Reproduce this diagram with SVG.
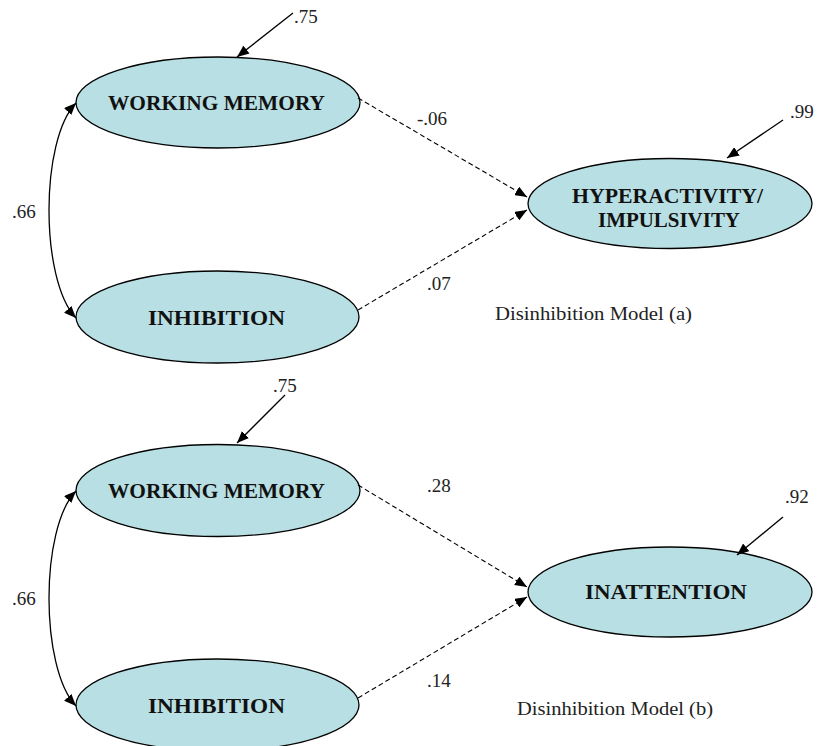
<svg xmlns="http://www.w3.org/2000/svg" width="820" height="746" viewBox="0 0 820 746">
  <defs>
    <marker id="arrow" viewBox="0 0 12 10" refX="12" refY="5" markerWidth="12" markerHeight="10" markerUnits="userSpaceOnUse" orient="auto-start-reverse">
      <path d="M0,0 L12,5 L0,10 Z" fill="#000"/>
    </marker>
    <style>
      .node ellipse { fill: #b8dfe3; stroke: #000; stroke-width: 1.3; }
      .label { font-weight: bold; font-size: 22px; fill: #111; text-anchor: middle; }
      .num { font-size: 19px; fill: #222; }
      .caption { font-size: 19px; fill: #222; }
      .solid { fill: none; stroke: #000; stroke-width: 1.3; marker-end: url(#arrow); }
      .dashed { fill: none; stroke: #000; stroke-width: 1.1; stroke-dasharray: 5 3; marker-end: url(#arrow); }
      .corr { fill: none; stroke: #000; stroke-width: 1.3; marker-start: url(#arrow); marker-end: url(#arrow); }
    </style>
  </defs>
  <rect width="820" height="746" fill="#fff"/>

  <g font-family="Liberation Serif, Times New Roman, serif">
  <!-- Model (a) -->
  <g id="wm-a" class="node">
    <ellipse cx="218" cy="102.5" rx="142" ry="45.5"/>
    <text class="label" x="216.5" y="110" textLength="217" lengthAdjust="spacingAndGlyphs">WORKING MEMORY</text>
  </g>
  <g id="inh-a" class="node">
    <ellipse cx="217.5" cy="317" rx="141.5" ry="46"/>
    <text class="label" x="216.5" y="325" textLength="137" lengthAdjust="spacingAndGlyphs">INHIBITION</text>
  </g>
  <g id="hyp-a" class="node">
    <ellipse cx="670" cy="203.5" rx="142" ry="45"/>
    <text class="label" x="667.5" y="202.5" textLength="191" lengthAdjust="spacingAndGlyphs">HYPERACTIVITY/</text>
    <text class="label" x="669" y="226.5" textLength="142" lengthAdjust="spacingAndGlyphs">IMPULSIVITY</text>
  </g>

  <!-- Model (b) -->
  <g id="wm-b" class="node">
    <ellipse cx="218" cy="490.5" rx="142" ry="46"/>
    <text class="label" x="216.5" y="498" textLength="217" lengthAdjust="spacingAndGlyphs">WORKING MEMORY</text>
  </g>
  <g id="inh-b" class="node">
    <ellipse cx="217.5" cy="705" rx="141.5" ry="46"/>
    <text class="label" x="216.5" y="713" textLength="137" lengthAdjust="spacingAndGlyphs">INHIBITION</text>
  </g>
  <g id="inatt-b" class="node">
    <ellipse cx="670" cy="592" rx="142" ry="45"/>
    <text class="label" x="666" y="598.5" textLength="162" lengthAdjust="spacingAndGlyphs">INATTENTION</text>
  </g>

  <g id="connectors">
    <!-- model (a) -->
    <path class="solid" d="M293,13 L237,57"/>
    <path class="solid" d="M783,120 L727,158"/>
    <path class="corr" d="M76,318 C40,280 40,140 76,103"/>
    <path class="dashed" d="M358,98 L527,197"/>
    <path class="dashed" d="M358,310 L527,210"/>
    <!-- model (b) -->
    <path class="solid" d="M285,395 L237,443"/>
    <path class="solid" d="M783,517 L737,555"/>
    <path class="corr" d="M76,706 C40,668 40,528 76,491"/>
    <path class="dashed" d="M358,485 L527,587"/>
    <path class="dashed" d="M358,698 L527,597"/>
  </g>

  <g id="labels">
    <text class="num" x="294" y="23">.75</text>
    <text class="num" x="790" y="118">.99</text>
    <text class="num" x="12" y="218">.66</text>
    <text class="num" x="417" y="125">-.06</text>
    <text class="num" x="427" y="290">.07</text>
    <text class="caption" x="495" y="320" textLength="197" lengthAdjust="spacingAndGlyphs">Disinhibition Model (a)</text>

    <text class="num" x="273" y="392">.75</text>
    <text class="num" x="785" y="503">.92</text>
    <text class="num" x="12" y="605">.66</text>
    <text class="num" x="427" y="492">.28</text>
    <text class="num" x="427" y="687">.14</text>
    <text class="caption" x="517" y="715" textLength="196" lengthAdjust="spacingAndGlyphs">Disinhibition Model (b)</text>
  </g>
  </g>
</svg>
